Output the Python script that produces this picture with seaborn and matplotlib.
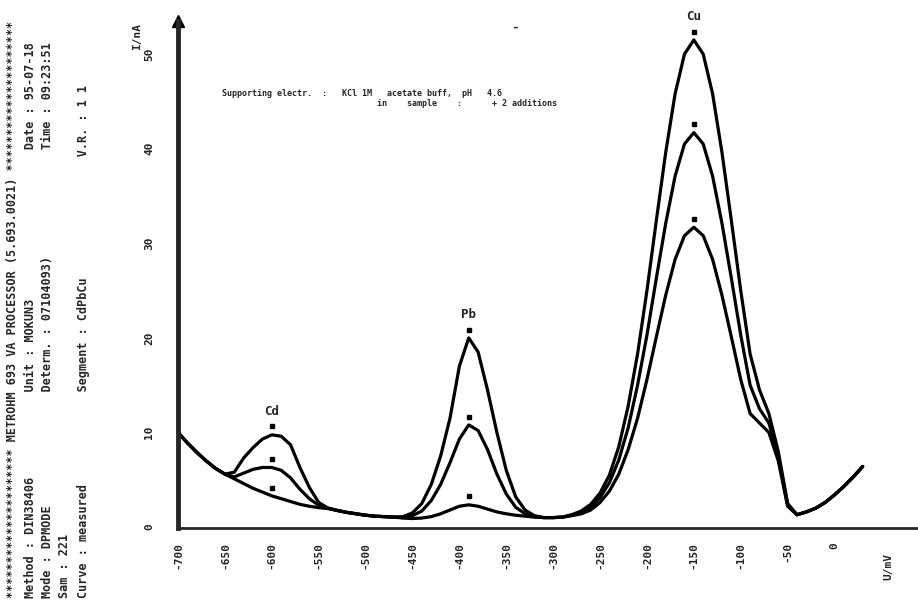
import numpy as np
import pandas as pd
import matplotlib
matplotlib.use("Agg")
import matplotlib.pyplot as plt
import seaborn as sns
from matplotlib.transforms import offset_copy

# potential axis (mV) and the three stripping curves (nA): sample, +1 addition, +2 additions
potential = [-700, -690, -680, -670, -660, -650, -640, -630, -620, -610,
             -600, -590, -580, -570, -560, -550, -540, -530, -520, -510,
             -500, -490, -480, -470, -460, -450, -440, -430, -420, -410,
             -400, -390, -380, -370, -360, -350, -340, -330, -320, -310,
             -300, -290, -280, -270, -260, -250, -240, -230, -220, -210,
             -200, -190, -180, -170, -160, -150, -140, -130, -120, -110,
             -100, -90, -80, -70, -60, -50, -40, -30, -20, -10,
             0, 10, 20, 30]

curve_sample = [10.0, 8.9, 7.9, 7.0, 6.2, 5.6, 5.1, 4.6, 4.1, 3.7,
                3.3, 3.0, 2.7, 2.4, 2.2, 2.05, 1.95, 1.75, 1.55, 1.4,
                1.25, 1.15, 1.1, 1.05, 0.95, 0.9, 0.95, 1.1, 1.4, 1.8,
                2.2, 2.35, 2.2, 1.9, 1.6, 1.4, 1.25, 1.15, 1.05, 1.0,
                1.0, 1.05, 1.2, 1.4, 1.8, 2.6, 3.8, 5.6, 8.2, 11.5,
                15.6, 20.1, 24.5, 28.3, 30.8, 31.7, 30.8, 28.3, 24.5, 20.1,
                15.6, 12.0, 11.0, 10.0, 7.0, 2.2, 1.3, 1.6, 2.0, 2.6,
                3.4, 4.3, 5.3, 6.4]

curve_add1 = [10.0, 8.9, 7.9, 7.0, 6.2, 5.6, 5.3, 5.7, 6.1, 6.3,
              6.3, 6.0, 5.2, 4.0, 3.0, 2.3, 2.0, 1.75, 1.55, 1.4,
              1.25, 1.15, 1.1, 1.05, 1.0, 1.2, 1.7, 2.8, 4.5, 6.8,
              9.3, 10.8, 10.2, 8.2, 5.6, 3.5, 2.1, 1.4, 1.1, 1.0,
              1.0, 1.05, 1.3, 1.6, 2.1, 3.1, 4.7, 7.1, 10.5, 15.0,
              20.3, 26.3, 32.1, 37.1, 40.5, 41.7, 40.5, 37.1, 32.1, 26.3,
              20.3, 15.0, 12.5, 11.0, 7.5, 2.3, 1.3, 1.6, 2.0, 2.6,
              3.4, 4.3, 5.3, 6.4]

curve_add2 = [10.0, 8.9, 7.9, 7.0, 6.2, 5.6, 5.8, 7.3, 8.4, 9.3,
              9.75, 9.6, 8.7, 6.3, 4.2, 2.6, 2.0, 1.75, 1.55, 1.4,
              1.25, 1.15, 1.1, 1.05, 1.1, 1.5, 2.5, 4.5, 7.5, 11.5,
              17.0, 20.0, 18.5, 14.5, 10.0, 6.0, 3.2, 1.8, 1.2, 1.0,
              1.0, 1.05, 1.3, 1.7, 2.4, 3.6, 5.5, 8.5, 12.8, 18.3,
              25.0, 32.4, 39.6, 45.8, 50.0, 51.5, 50.0, 45.8, 39.6, 32.4,
              25.0, 18.3, 14.5, 12.0, 8.0, 2.5, 1.3, 1.6, 2.0, 2.6,
              3.4, 4.3, 5.3, 6.4]

elements = ["Cd", "Pb", "Cu"]
peak_potential = [-600, -390, -150]

x_ticks = [-700, -650, -600, -550, -500, -450, -400, -350, -300, -250,
           -200, -150, -100, -50, 0]
y_ticks = [0, 10, 20, 30, 40, 50]

header_cols = [
    "*" * 21 + " METROHM 693 VA PROCESSOR (5.693.0021) " + "*" * 21,
    "Method : DIN38406".ljust(29) + "Unit : MOKUN3".ljust(34) + "Date : 95-07-18",
    "Mode : DPMODE".ljust(29) + "Determ. : 07104093)".ljust(34) + "Time : 09:23:51",
    "Sam : 221",
    "Curve : measured".ljust(29) + "Segment : CdPbCu".ljust(33) + "V.R. : 1 1",
]
header_x = [13, 31, 48, 64, 84]

comment_1 = "Supporting electr.  :   KCl 1M   acetate buff,  pH   4.6"
comment_2 = "in    sample    :      + 2 additions"

df = pd.DataFrame({
    "U": potential * 3,
    "I": curve_sample + curve_add1 + curve_add2,
    "curve": ["sample"] * len(potential) + ["add1"] * len(potential) + ["add2"] * len(potential),
})

sns.set_style("white")
plt.rcParams['font.family'] = ['DejaVu Sans Mono', 'DejaVu Sans']

fig = plt.figure(figsize=(9.18, 6.02), dpi=100)
ax = fig.add_axes([178 / 918, 74 / 602, 740 / 918, 507 / 602])

sns.lineplot(data=df, x="U", y="I", hue="curve", palette=["black"] * 3,
             estimator=None, legend=False, lw=2.3, ax=ax)
for ln in ax.lines:
    ln.set_solid_joinstyle("round")
    ln.set_solid_capstyle("round")

ax.set_xlim(-697, 89)
ax.set_ylim(-0.1, 53.5)

# little peak marks above each maximum
mark_tr = offset_copy(ax.transData, fig=fig, x=0, y=6, units="points")
for curve in (curve_sample, curve_add1, curve_add2):
    for p in peak_potential:
        i = potential.index(p)
        ax.plot(p, curve[i], marker="s", ms=3, color="black", transform=mark_tr)

for name, p in zip(elements, peak_potential):
    i = potential.index(p)
    ax.annotate(name, (p, curve_add2[i]), xytext=(0, 17), textcoords="offset points",
                ha="center", va="center", fontsize=9, fontweight="bold")

# axes like the old plotter
sns.despine(ax=ax, top=True, right=True)
ax.spines["left"].set_linewidth(3.5)
ax.spines["bottom"].set_linewidth(2)
ax.plot([0], [1], marker="^", ms=8, color="black", transform=ax.transAxes, clip_on=False)

ax.set_xticks(x_ticks)
ax.set_xticklabels([str(t) for t in x_ticks], rotation=90, fontsize=8, fontweight="bold")
ax.set_yticks(y_ticks)
ax.set_yticklabels([str(t) for t in y_ticks], rotation=90, va="center", fontsize=8, fontweight="bold")
ax.tick_params(axis="x", direction="out", length=6, width=2, pad=4)
ax.tick_params(axis="y", direction="out", length=12, width=2, pad=5)
ax.set_xlabel("")
ax.set_ylabel("")

fig.text(137 / 918, 1 - 36 / 602, "I/nA", rotation=90, ha="center", va="center",
         fontsize=8, fontweight="bold")
fig.text(888 / 918, 1 - 567 / 602, "U/mV", rotation=90, ha="center", va="center",
         fontsize=8, fontweight="bold")

for xpos, line in zip(header_x, header_cols):
    fig.text(xpos / 918, 4 / 602, line, rotation=90, ha="center", va="bottom",
             fontsize=8.5, fontweight="bold")

fig.text(222 / 918, 1 - 94 / 602, comment_1, ha="left", va="center", fontsize=6, fontweight="bold")
fig.text(377 / 918, 1 - 104 / 602, comment_2, ha="left", va="center", fontsize=6, fontweight="bold")
fig.text(515 / 918, 1 - 27 / 602, "-", ha="center", va="center", fontsize=9, fontweight="bold")

fig.savefig("out.png", dpi=100, facecolor="white")
